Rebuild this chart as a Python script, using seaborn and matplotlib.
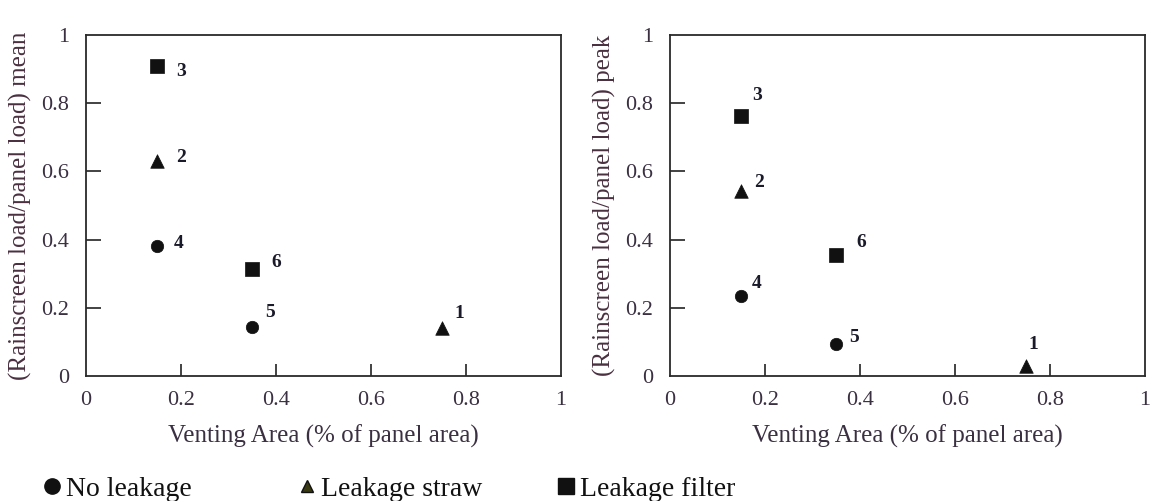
import matplotlib
matplotlib.use("Agg")
import matplotlib.pyplot as plt
import seaborn as sns
import pandas as pd
from matplotlib.lines import Line2D

# ---- data ----
case_ids = ["1", "2", "3", "4", "5", "6"]
leak_type = ["Leakage straw", "Leakage straw", "Leakage filter",
             "No leakage", "No leakage", "Leakage filter"]
venting_area = [0.75, 0.15, 0.15, 0.15, 0.35, 0.35]
mean_ratio = [0.14, 0.63, 0.91, 0.38, 0.144, 0.313]
peak_ratio = [0.03, 0.543, 0.762, 0.236, 0.095, 0.355]

categories = ["No leakage", "Leakage straw", "Leakage filter"]
x_ticks = [0, 0.2, 0.4, 0.6, 0.8, 1]
x_ticklabels = ["0", "0.2", "0.4", "0.6", "0.8", "1"]
y_ticks = [0, 0.2, 0.4, 0.6, 0.8, 1]
y_ticklabels = ["0", "0.2", "0.4", "0.6", "0.8", "1"]

df = pd.DataFrame({"case": case_ids, "type": leak_type, "area": venting_area,
                   "mean": mean_ratio, "peak": peak_ratio})

# ---- style ----
sns.set_theme(style="white")
plt.rcParams["font.family"] = ["Liberation Serif", "DejaVu Serif"]
TXT = "#3b3042"
markers = {"No leakage": "o", "Leakage straw": "^", "Leakage filter": "s"}
msizes = {"No leakage": 80, "Leakage straw": 95, "Leakage filter": 105}

# label offsets in pixels (dx, dy up)
off_mean = {"1": (12, 15), "2": (19, 4), "3": (19, -6), "4": (17, 3), "5": (13, 14), "6": (19, 7)}
off_peak = {"1": (2, 21), "2": (13, 8), "3": (11, 21), "4": (11, 12), "5": (13, 6), "6": (20, 12)}

fig = plt.figure(figsize=(11.51, 5.01), dpi=100)
ax1 = fig.add_axes([86 / 1151, 1 - 376 / 501, 475 / 1151, 341 / 501])
ax2 = fig.add_axes([670 / 1151, 1 - 376 / 501, 475 / 1151, 341 / 501])

panels = [(ax1, "mean", "(Rainscreen load/panel load) mean", off_mean),
          (ax2, "peak", "(Rainscreen load/panel load) peak", off_peak)]

for ax, col, ylab, offs in panels:
    for cat in categories:
        sub = df[df["type"] == cat]
        sns.scatterplot(data=sub, x="area", y=col, marker=markers[cat],
                        s=msizes[cat], color="#111111", edgecolor="#111111",
                        linewidth=0.5, ax=ax, legend=False, zorder=3)
    for _, r in df.iterrows():
        dx, dy = offs[r["case"]]
        ax.annotate(r["case"], (r["area"], r[col]), xytext=(dx * 0.72, dy * 0.72),
                    textcoords="offset points", ha="left", va="center",
                    fontsize=14, fontweight="bold", color="#1a1a2a")
    ax.set_xlim(0, 1)
    ax.set_ylim(0, 1)
    ax.set_xticks(x_ticks)
    ax.set_xticklabels(x_ticklabels)
    ax.set_yticks(y_ticks)
    ax.set_yticklabels(y_ticklabels)
    ax.tick_params(axis="x", direction="in", length=9, width=1.2, color="#222222",
                   pad=11, labelsize=16, labelcolor=TXT, bottom=True, top=False)
    ax.tick_params(axis="y", direction="in", length=10.5, width=1.2, color="#222222",
                   pad=12, labelsize=16, labelcolor=TXT, left=True, right=False)
    # hide tick marks at 0 and 1 (coincide with spines)
    for tk in [ax.xaxis.get_major_ticks()[0], ax.xaxis.get_major_ticks()[-1],
               ax.yaxis.get_major_ticks()[0], ax.yaxis.get_major_ticks()[-1]]:
        tk.tick1line.set_visible(False)
    for sp in ax.spines.values():
        sp.set_visible(True)
        sp.set_color("#2a2a2a")
        sp.set_linewidth(1.3)
    ax.set_xlabel("Venting Area (% of panel area)", fontsize=18, color=TXT, labelpad=10)
    ax.set_ylabel(ylab, fontsize=18, color="#4a2f40", labelpad=7)

# ---- legend ----
leg_x = [0.016, 0.238, 0.463]
leg_ms = {"No leakage": 11, "Leakage straw": 9, "Leakage filter": 11}
leg_col = {"No leakage": "#111111", "Leakage straw": "#3a3a12", "Leakage filter": "#111111"}
for cat, lx in zip(categories, leg_x):
    h = Line2D([], [], linestyle="none", marker=markers[cat], markersize=leg_ms[cat],
               color=leg_col[cat], markeredgecolor="#111111")
    fig.legend(handles=[h], labels=[cat], loc="lower left", bbox_to_anchor=(lx, -0.04),
               frameon=False, fontsize=20, handletextpad=0.0, handlelength=1.0,
               borderpad=0.2, labelcolor="#111111")

fig.savefig("out.png", dpi=100)
